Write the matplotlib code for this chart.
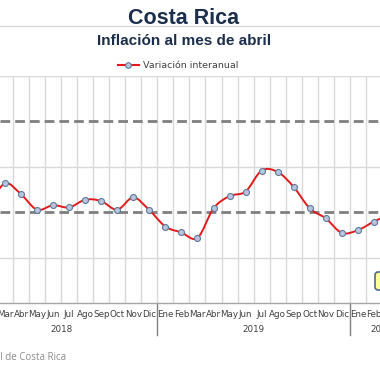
import numpy as np
import matplotlib
matplotlib.use("Agg")
import matplotlib.pyplot as plt
from matplotlib.path import Path
from matplotlib.patches import PathPatch, FancyBboxPatch
from matplotlib.lines import Line2D

# data: interannual inflation (%), Feb 2018 .. Mar 2020
months = ["Feb", "Mar", "Abr", "May", "Jun", "Jul", "Ago", "Sep", "Oct", "Nov", "Dic",
          "Ene", "Feb", "Mar", "Abr", "May", "Jun", "Jul", "Ago", "Sep", "Oct", "Nov", "Dic",
          "Ene", "Feb", "Mar"]
values = [2.15, 2.63, 2.39, 2.05, 2.15, 2.10, 2.27, 2.24, 2.05, 2.32, 2.04,
          1.68, 1.55, 1.43, 2.08, 2.35, 2.45, 2.91, 2.88, 2.55, 2.08, 1.86, 1.54,
          1.60, 1.79, 1.95]
years = ["2018", "2019", "2020"]
year_centers = [4.5, 16.5, 24.5]   # middle of each year's block (2020: Ene..Abr)
year_breaks = [10.5, 22.5]
target_band = [2, 4]

W = H = 380.0
fig = plt.figure(figsize=(3.8, 3.8), dpi=100)
ax = fig.add_axes([0, (W - 303) / W, 1, 227.5 / H])

x = np.arange(len(values))
y = np.array(values)

# smoothed line (Excel style), bezier through the points
verts = [(x[0], y[0])]
codes = [Path.MOVETO]
n = len(x)
for i in range(n - 1):
    p0 = np.array([x[max(i - 1, 0)], y[max(i - 1, 0)]])
    p1 = np.array([x[i], y[i]])
    p2 = np.array([x[i + 1], y[i + 1]])
    p3 = np.array([x[min(i + 2, n - 1)], y[min(i + 2, n - 1)]])
    c1 = p1 + (p2 - p0) / 6
    c2 = p2 - (p3 - p1) / 6
    verts += [tuple(c1), tuple(c2), tuple(p2)]
    codes += [Path.CURVE4] * 3
ax.add_patch(PathPatch(Path(verts, codes), fill=False, ec="#E31A1C", lw=1.4, zorder=4))
ax.plot(x, y, "o", ms=4.3, mfc="#B6C6DC", mec="#61789C", mew=0.8, zorder=5)

# target band
for v in target_band:
    ax.axhline(v, color="#7F7F7F", lw=2, ls=(0, (3.5, 1.8)), zorder=3)

# grid
for v in [1, 3, 5]:
    ax.axhline(v, color="#D9D9D9", lw=1, zorder=1)
for k in np.arange(-0.5, len(values) + 0.5, 1):
    ax.axvline(k, color="#D9D9D9", lw=1, zorder=1)

for s in ["left", "right", "top"]:
    ax.spines[s].set_visible(False)
ax.spines["bottom"].set_color("#A6A6A6")
ax.spines["bottom"].set_linewidth(1)
ax.set_yticks([])
ax.set_xticks(x)
ax.set_xticklabels(months, fontsize=6.3, color="#404040")
ax.tick_params(axis="x", length=0, pad=5)

# view window (the chart is cropped on both sides)
ax.set_xlim(0.688, 24.38)
ax.set_ylim(0, 5)

# year labels and separators
tr = ax.get_xaxis_transform()
for yr, c in zip(years, year_centers):
    ax.text(c, -26 / 227.5, yr, transform=tr, ha="center", va="center",
            fontsize=6.3, color="#404040", clip_on=False)
for b in year_breaks:
    ax.add_line(Line2D([b, b], [0, -32 / 227.5], transform=tr, color="#808080",
                       lw=1, clip_on=False))

# titles
fig.text(184 / W, 1 - 18 / H, "Costa Rica", ha="center", va="center",
         fontsize=15.5, fontweight="bold", color="#1B2E4B", family="Liberation Sans")
fig.text(184.5 / W, 1 - 41 / H, "Inflación al mes de abril", ha="center", va="center",
         fontsize=11, fontweight="bold", color="#1B2E4B", family="Liberation Sans")
fig.add_artist(Line2D([0, 1], [1 - 26 / H, 1 - 26 / H], color="#D9D9D9", lw=1,
                      transform=fig.transFigure, zorder=0))

# legend
handle = Line2D([], [], color="#E31A1C", lw=1.5, marker="o", ms=4,
                mfc="#B6C6DC", mec="#61789C", mew=0.8)
fig.legend([handle], ["Variación interanual"], loc="center",
           bbox_to_anchor=(178 / W, 1 - 66 / H), frameon=False, fontsize=6.8,
           handlelength=2.2, handletextpad=0.4, labelcolor="#404040")

# data label box (cut at right edge)
fig.add_artist(FancyBboxPatch((375 / W, 1 - 290 / H), 40 / W, 18 / H,
                              boxstyle="round,pad=0,rounding_size=0.008",
                              fc="#FFFF99", ec="#4F6A8F", lw=1.2,
                              transform=fig.transFigure, zorder=6))

# source
fig.text(66 / W, 1 - 357 / H, "Fuente: Banco Central de Costa Rica", ha="right",
         va="center", fontsize=7, color="#8C8C8C", family="Open Sans")

fig.savefig("out.png", dpi=100)
